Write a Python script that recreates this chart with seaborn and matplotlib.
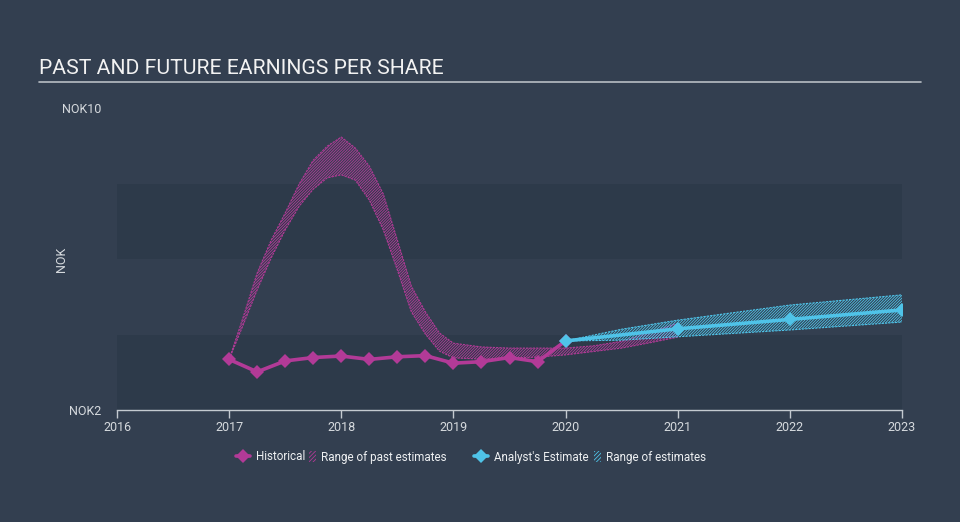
import pandas as pd
import seaborn as sns
import matplotlib.pyplot as plt
from matplotlib.lines import Line2D
from matplotlib.patches import Patch

# values (NOK per share)
hist_years = [2017, 2017.25, 2017.5, 2017.75, 2018, 2018.25, 2018.5, 2018.75,
              2019, 2019.25, 2019.5, 2019.75, 2020]
hist_eps = [3.34, 3.01, 3.30, 3.39, 3.43, 3.34, 3.41, 3.44,
            3.24, 3.28, 3.39, 3.28, 3.83]

past_years = [2017, 2017.125, 2017.25, 2017.375, 2017.5, 2017.625, 2017.75, 2017.875,
              2018, 2018.125, 2018.25, 2018.375, 2018.5, 2018.625, 2018.75, 2018.875,
              2019, 2019.25, 2019.5, 2019.75, 2020, 2020.25, 2020.5, 2020.75, 2021]
past_high = [3.34, 4.46, 5.63, 6.50, 7.22, 7.99, 8.62, 8.99,
             9.23, 8.94, 8.46, 7.72, 6.50, 5.28, 4.60, 4.04,
             3.77, 3.67, 3.64, 3.64, 3.64, 3.70, 3.82, 4.05, 4.30]
past_low = [3.34, 4.25, 5.18, 6.03, 6.77, 7.40, 7.85, 8.15,
            8.23, 8.09, 7.56, 6.77, 5.71, 4.60, 4.01, 3.56,
            3.38, 3.35, 3.38, 3.40, 3.46, 3.55, 3.64, 3.78, 3.93]

est_years = [2020, 2021, 2022, 2023]
est_eps = [3.83, 4.15, 4.40, 4.65]

range_years = [2020, 2020.5, 2021, 2022, 2023]
range_high = [3.83, 4.14, 4.38, 4.78, 5.05]
range_low = [3.83, 3.85, 3.94, 4.12, 4.33]

BG = '#333f50'
BAND = '#2d3a4a'
PINK = '#b23a97'
BLUE = '#4fc3e8'
TXT = '#d6dade'
HATCH = '/' * 12

sns.set_theme(style="white")
plt.rcParams['font.family'] = ['Roboto', 'DejaVu Sans']
plt.rcParams['hatch.linewidth'] = 0.6

fig = plt.figure(figsize=(9.6, 5.22), dpi=100, facecolor=BG)
ax = fig.add_axes([117 / 960, 1 - 410 / 522, 785 / 960, 302 / 522])
ax.set_facecolor(BG)

ax.axhspan(2, 4, color=BAND, lw=0, zorder=0)
ax.axhspan(6, 8, color=BAND, lw=0, zorder=0)

# ranges
ax.fill_between(past_years, past_low, past_high, facecolor='none',
                edgecolor=PINK, hatch=HATCH, linewidth=0, zorder=1)
ax.plot(past_years, past_high, color=PINK, lw=0.8, ls=(0, (2, 1)), zorder=1)
ax.plot(past_years, past_low, color=PINK, lw=0.8, ls=(0, (2, 1)), zorder=1)
ax.fill_between(range_years, range_low, range_high, facecolor='none',
                edgecolor=BLUE, hatch=HATCH, linewidth=0, zorder=1)
ax.plot(range_years, range_high, color=BLUE, lw=0.8, ls=(0, (2, 1)), zorder=1)
ax.plot(range_years, range_low, color=BLUE, lw=0.8, ls=(0, (2, 1)), zorder=1)

hist = pd.DataFrame({'year': hist_years, 'eps': hist_eps})
est = pd.DataFrame({'year': est_years, 'eps': est_eps})
sns.lineplot(data=hist, x='year', y='eps', ax=ax, color=PINK, lw=2.6,
             marker='D', markersize=7, markeredgewidth=0, zorder=3)
sns.lineplot(data=est, x='year', y='eps', ax=ax, color=BLUE, lw=2.6,
             marker='D', markersize=7, markeredgewidth=0, zorder=3)

ax.set_xlim(2016, 2023)
ax.set_ylim(2, 10)
ax.set_xticks(range(2016, 2024))
ax.set_xticklabels([str(y) for y in range(2016, 2024)])
ax.set_yticks([2, 10])
ax.set_yticklabels(['NOK2', 'NOK10'])
ax.tick_params(axis='x', colors='#c4cad0', labelcolor=TXT, labelsize=9,
               length=6, width=1, direction='out', pad=2, bottom=True)
ax.tick_params(axis='y', labelcolor=TXT, labelsize=9, length=0, pad=11)
for s in ['top', 'right', 'left']:
    ax.spines[s].set_visible(False)
ax.spines['bottom'].set_color('#c4cad0')
ax.spines['bottom'].set_linewidth(1)
ax.set_xlabel('')
ax.set_ylabel('NOK', color=TXT, fontsize=9)
ax.yaxis.set_label_coords((68 - 117) / 785, 0.5)

fig.text(39 / 960, 1 - 69 / 522, 'PAST AND FUTURE EARNINGS PER SHARE',
         color='#f2f2f2', fontsize=15.2, va='center', ha='left')
fig.add_artist(Line2D([39 / 960, 921 / 960], [1 - 82 / 522, 1 - 82 / 522],
                      color='#b8bec4', lw=1.2))

def marker_handle(c):
    return Line2D([], [], color=c, lw=2.6, marker='D', markersize=7,
                  markeredgewidth=0)

def legend_item(handle, label, x, hlen, pad, hh=0.7):
    fig.legend([handle], [label], frameon=False, fontsize=8.4, labelcolor='#eef0f2',
               handlelength=hlen, handleheight=hh, handletextpad=pad,
               loc='center left', borderpad=0, borderaxespad=0,
               bbox_to_anchor=(x / 960, 1 - 457 / 522))

legend_item(marker_handle(PINK), 'Historical', 236, 1.2, 0.5)
legend_item(Patch(facecolor='none', edgecolor=PINK, hatch='////////', lw=0),
            'Range of past estimates', 309, 0.6, 0.4, 1.1)
legend_item(marker_handle(BLUE), "Analyst's Estimate", 474, 1.2, 0.5)
legend_item(Patch(facecolor='none', edgecolor=BLUE, hatch='////////', lw=0),
            'Range of estimates', 594, 0.6, 0.4, 1.1)

plt.savefig('out.png', dpi=100, facecolor=BG)
plt.close()
